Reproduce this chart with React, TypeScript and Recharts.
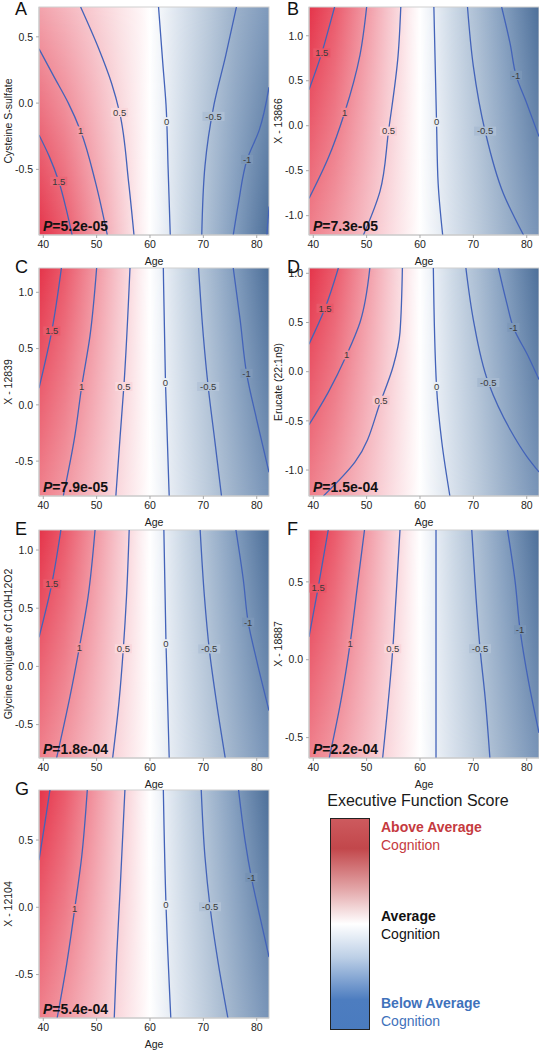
import React from "react";
import { ComposedChart, XAxis, YAxis, Line, Scatter, ReferenceArea } from "recharts";

type Pt = [number, number];
type Lab = [string, number, number];

const AGE_DOMAIN: [number, number] = [39.2, 82.3];
const AGE_TICKS = [40, 50, 60, 70, 80];

// contour lines, each as [age, metabolite] points from top to bottom
const contoursA: Pt[][] = [
  [[39.2, -0.24], [41.1, -0.4], [42.9, -0.59], [44.3, -0.8], [45.4, -0.995]],
  [[39.2, 0.41], [42.0, 0.2], [44.7, 0.0], [47.0, -0.21], [49.8, -0.6], [52.0, -0.995]],
  [[47.0, 0.725], [50.4, 0.41], [52.8, 0.15], [54.3, -0.07], [56.0, -0.6], [57.0, -0.995]],
  [[61.6, 0.725], [62.4, 0.3], [63.0, -0.01], [63.4, -0.5], [63.8, -0.995]],
  [[76.2, 0.725], [74.2, 0.36], [72.0, -0.01], [70.3, -0.475], [69.7, -0.995]],
  [[82.3, 0.12], [80.5, -0.2], [78.2, -0.425], [76.6, -0.75], [75.6, -0.995]],
  [[82.3, -0.78], [81.9, -0.995]],
];
const labelsA: Lab[] = [
  ["1.5", 42.9, -0.59], ["1", 47.0, -0.21], ["0.5", 54.3, -0.07],
  ["0", 63.1, -0.14], ["-0.5", 71.9, -0.1], ["-1", 78.2, -0.425],
];

const contoursB: Pt[][] = [
  [[44.0, 1.32], [42.8, 1.06], [41.6, 0.81], [39.2, 0.4]],
  [[50.0, 1.32], [48.75, 0.785], [45.9, 0.15], [42.8, -0.36], [39.2, -0.81]],
  [[56.4, 1.32], [55.9, 0.785], [54.1, -0.06], [52.5, -0.73], [49.4, -1.215]],
  [[62.6, 1.32], [63.1, 0.04], [63.4, -0.64], [64.25, -1.215]],
  [[68.9, 1.32], [70.0, 0.66], [72.2, -0.06], [75.6, -0.75], [79.4, -1.215]],
  [[75.3, 1.32], [76.9, 0.91], [78.0, 0.56], [80.0, 0.25], [82.3, -0.12]],
];
const labelsB: Lab[] = [
  ["1.5", 41.6, 0.81], ["1", 45.9, 0.15], ["0.5", 54.1, -0.06],
  ["0", 63.1, 0.04], ["-0.5", 72.2, -0.06], ["-1", 78.0, 0.56],
];

const contoursC: Pt[][] = [
  [[43.4, 1.216], [41.6, 0.657], [39.2, 0.148]],
  [[50.0, 1.216], [48.75, 0.61], [47.2, 0.163], [45.9, -0.28], [43.75, -0.81]],
  [[56.25, 1.216], [55.1, 0.163], [54.4, -0.28], [53.6, -0.81]],
  [[62.5, 1.216], [62.9, 0.198], [63.6, -0.81]],
  [[69.1, 1.216], [70.0, 0.61], [70.9, 0.163], [72.2, -0.34], [73.4, -0.81]],
  [[75.6, 1.216], [76.9, 0.754], [78.1, 0.28], [80.0, -0.133], [82.3, -0.6]],
];
const labelsC: Lab[] = [
  ["1.5", 41.6, 0.657], ["1", 47.2, 0.163], ["0.5", 55.1, 0.163],
  ["0", 62.9, 0.198], ["-0.5", 70.9, 0.163], ["-1", 78.1, 0.28],
];

const contoursD: Pt[][] = [
  [[44.7, 1.054], [42.2, 0.645], [39.2, 0.28]],
  [[50.6, 1.054], [48.75, 0.5], [46.25, 0.17], [42.8, -0.21], [39.2, -0.54]],
  [[56.7, 1.054], [56.25, 0.4], [55.0, 0.06], [52.7, -0.29], [47.8, -0.92], [41.9, -1.264]],
  [[62.5, 1.054], [63.1, -0.15], [64.1, -0.72], [65.6, -1.264]],
  [[68.6, 1.054], [70.0, 0.527], [72.8, -0.11], [76.9, -0.59], [80.0, -0.86], [82.3, -1.02]],
  [[74.7, 1.054], [76.25, 0.7], [77.5, 0.45], [80.3, 0.155], [82.3, -0.08]],
];
const labelsD: Lab[] = [
  ["1.5", 42.2, 0.645], ["1", 46.25, 0.17], ["0.5", 52.7, -0.29],
  ["0", 63.1, -0.15], ["-0.5", 72.8, -0.11], ["-1", 77.5, 0.45],
];

const contoursE: Pt[][] = [
  [[43.3, 1.172], [41.6, 0.71], [39.2, 0.25]],
  [[49.7, 1.172], [48.4, 0.6], [46.75, 0.16], [45.0, -0.26], [42.5, -0.787]],
  [[56.1, 1.172], [55.6, 0.6], [55.0, 0.152], [54.2, -0.3], [53.0, -0.787]],
  [[62.6, 1.172], [63.0, 0.195], [63.6, -0.787]],
  [[69.4, 1.172], [70.2, 0.6], [71.1, 0.15], [72.5, -0.32], [74.1, -0.787]],
  [[76.1, 1.172], [77.5, 0.74], [78.4, 0.38], [80.0, 0.05], [82.3, -0.38]],
];
const labelsE: Lab[] = [
  ["1.5", 41.6, 0.71], ["1", 46.75, 0.16], ["0.5", 55.0, 0.152],
  ["0", 63.0, 0.195], ["-0.5", 71.1, 0.15], ["-1", 78.4, 0.38],
];

const contoursF: Pt[][] = [
  [[42.8, 0.833], [40.9, 0.46], [39.2, 0.146]],
  [[49.6, 0.833], [48.4, 0.51], [46.9, 0.103], [45.3, -0.24], [43.0, -0.631]],
  [[56.25, 0.833], [55.5, 0.4], [54.9, 0.071], [53.0, -0.631]],
  [[63.0, 0.833], [63.0, -0.631]],
  [[69.7, 0.833], [70.5, 0.4], [71.25, 0.071], [72.2, -0.24], [73.1, -0.631]],
  [[76.4, 0.833], [77.8, 0.51], [78.75, 0.193], [80.3, -0.133], [82.3, -0.47]],
];
const labelsF: Lab[] = [
  ["1.5", 40.9, 0.46], ["1", 46.9, 0.103], ["0.5", 54.9, 0.071],
  ["-0.5", 71.25, 0.071], ["-1", 78.75, 0.193],
];

const contoursG: Pt[][] = [
  [[41.25, 0.872], [40.2, 0.6], [39.2, 0.35]],
  [[48.25, 0.872], [47.2, 0.376], [45.9, -0.009], [44.4, -0.418], [42.6, -0.823]],
  [[55.3, 0.872], [54.4, 0.128], [53.75, -0.368], [53.3, -0.823]],
  [[62.5, 0.872], [63.0, 0.016], [63.9, -0.823]],
  [[69.6, 0.872], [70.3, 0.376], [71.25, 0.004], [72.8, -0.418], [74.6, -0.823]],
  [[76.6, 0.872], [77.8, 0.5], [79.0, 0.222], [80.6, -0.07], [82.3, -0.37]],
];
const labelsG: Lab[] = [
  ["1", 45.9, -0.009], ["0", 63.0, 0.016], ["-0.5", 71.25, 0.004], ["-1", 79.0, 0.222],
];

// background colour ramp (strong = extreme edge, weak = opposite edge)
const STOP_AGES = [39.2, 44, 49, 54, 58.5, 60, 62, 66, 71, 76, 82.3];
const STRONG = ["#e4344a", "#ea5a6b", "#f08f9b", "#f6c4cb", "#fdf1f3", "#ffffff", "#eef2f8", "#cdd9e6", "#a9bcd2", "#819cbd", "#4d6f99"];
const WEAK = ["#f0808c", "#f29aa4", "#f6b9c1", "#fad9de", "#fef5f6", "#ffffff", "#f2f5f9", "#d9e2ed", "#bccbdc", "#9db2cb", "#7894b8"];
const WEAK_A = ["#f3a3ac", "#f5b6be", "#f8ccd2", "#fbe3e6", "#fef6f7", "#ffffff", "#f2f5f9", "#d9e2ed", "#bccbdc", "#9db2cb", "#7f9abc"];

const LINE = "#4363b9";
const FONT = "'Liberation Sans', Arial, sans-serif";

const hex = (h: string) => [1, 3, 5].map((i) => parseInt(h.slice(i, i + 2), 16));
const lerp = (a: number[], b: number[], t: number) => a.map((x, i) => x + (b[i] - x) * t);

function colorAt(age: number, t: number, weak: string[]) {
  let i = 0;
  while (i < STOP_AGES.length - 2 && age > STOP_AGES[i + 1]) i++;
  const f = Math.max(0, Math.min(1, (age - STOP_AGES[i]) / (STOP_AGES[i + 1] - STOP_AGES[i])));
  const s = lerp(hex(STRONG[i]), hex(STRONG[i + 1]), f);
  const w = lerp(hex(weak[i]), hex(weak[i + 1]), f);
  const c = lerp(w, s, t).map((v) => Math.round(v));
  return `rgb(${c[0]},${c[1]},${c[2]})`;
}

const offsetOf = (a: number) => (a - AGE_DOMAIN[0]) / (AGE_DOMAIN[1] - AGE_DOMAIN[0]);

function Background(props: any) {
  const { x, y, width, height, id, flip, weak } = props;
  return (
    <g>
      <defs>
        <linearGradient id={`${id}-weak`} x1="0" y1="0" x2="1" y2="0">
          {STOP_AGES.map((a, i) => <stop key={i} offset={offsetOf(a)} stopColor={weak[i]} />)}
        </linearGradient>
        <linearGradient id={`${id}-strong`} x1="0" y1="0" x2="1" y2="0">
          {STOP_AGES.map((a, i) => <stop key={i} offset={offsetOf(a)} stopColor={STRONG[i]} />)}
        </linearGradient>
        <linearGradient id={`${id}-fade`} x1="0" y1="0" x2="0" y2="1">
          <stop offset={0} stopColor="#fff" stopOpacity={flip ? 0 : 1} />
          <stop offset={1} stopColor="#fff" stopOpacity={flip ? 1 : 0} />
        </linearGradient>
        <mask id={`${id}-mask`} maskUnits="userSpaceOnUse" x={x} y={y} width={width} height={height} style={{ maskType: "alpha" } as any}>
          <rect x={x} y={y} width={width} height={height} fill={`url(#${id}-fade)`} />
        </mask>
      </defs>
      <rect x={x} y={y} width={width} height={height} fill={`url(#${id}-weak)`} />
      <rect x={x} y={y} width={width} height={height} fill={`url(#${id}-strong)`} mask={`url(#${id}-mask)`} />
      <rect x={x} y={y} width={width} height={height} fill="none" stroke="#cfcfcf" strokeWidth={1} />
    </g>
  );
}

function ContourLabel(props: any) {
  const { cx, cy, payload } = props;
  if (cx == null || cy == null) return null;
  const w = payload.text.length * 5 + 2;
  return (
    <g>
      <rect x={cx - w / 2} y={cy - 4.5} width={w} height={9} fill={payload.bg} />
      <text x={cx} y={cy} dy="0.35em" textAnchor="middle" fontSize={9.5} fill="#3a3a3a">
        {payload.text}
      </text>
    </g>
  );
}

const ROW_TOPS = [7, 268, 530, 790];
const PLOT_H = 228;

const PANELS = [
  { key: "A", title: "Cysteine S-sulfate", p: "5.2e-05", domain: [-0.995, 0.725], ticks: [-0.5, 0, 0.5], contours: contoursA, labels: labelsA, flip: true, weak: WEAK_A, col: 0, row: 0 },
  { key: "B", title: "X - 13866", p: "7.3e-05", domain: [-1.215, 1.32], ticks: [-1, -0.5, 0, 0.5, 1], contours: contoursB, labels: labelsB, flip: false, weak: WEAK, col: 1, row: 0 },
  { key: "C", title: "X - 12839", p: "7.9e-05", domain: [-0.81, 1.216], ticks: [-0.5, 0, 0.5, 1], contours: contoursC, labels: labelsC, flip: false, weak: WEAK, col: 0, row: 1 },
  { key: "D", title: "Erucate (22:1n9)", p: "1.5e-04", domain: [-1.264, 1.054], ticks: [-1, -0.5, 0, 0.5, 1], contours: contoursD, labels: labelsD, flip: false, weak: WEAK, col: 1, row: 1 },
  { key: "E", title: "Glycine conjugate of C10H12O2", p: "1.8e-04", domain: [-0.787, 1.172], ticks: [-0.5, 0, 0.5, 1], contours: contoursE, labels: labelsE, flip: false, weak: WEAK, col: 0, row: 2 },
  { key: "F", title: "X - 18887", p: "2.2e-04", domain: [-0.631, 0.833], ticks: [-0.5, 0, 0.5], contours: contoursF, labels: labelsF, flip: false, weak: WEAK, col: 1, row: 2 },
  { key: "G", title: "X - 12104", p: "5.4e-04", domain: [-0.823, 0.872], ticks: [-0.5, 0, 0.5], contours: contoursG, labels: labelsG, flip: false, weak: WEAK, col: 0, row: 3 },
];

function Panel({ cfg }: { cfg: (typeof PANELS)[number] }) {
  const [ymin, ymax] = cfg.domain;
  const left = cfg.col === 0 ? 0 : 270;
  const width = cfg.col === 0 ? 270 : 269;
  const top = ROW_TOPS[cfg.row] - 7;
  const id = `bg${cfg.key}`;
  const labelData = cfg.labels.map(([text, age, v]) => {
    const t = cfg.flip ? (ymax - v) / (ymax - ymin) : (v - ymin) / (ymax - ymin);
    return { age, v, text, bg: colorAt(age, t, cfg.weak) };
  });
  const axisText = { fontSize: 10.5, fill: "#222" };

  return (
    <div style={{ position: "absolute", left, top, width, height: 267 }}>
      <ComposedChart width={width} height={267} margin={{ top: 7, right: cfg.col === 0 ? 1 : 0, left: 0, bottom: 0 }}>
        <XAxis
          type="number"
          dataKey="age"
          domain={AGE_DOMAIN}
          ticks={AGE_TICKS}
          allowDataOverflow
          height={32}
          tickSize={3}
          tickMargin={3}
          tick={axisText}
          tickLine={{ stroke: "#aaa" }}
          axisLine={{ stroke: "#c8c8c8" }}
          label={{ value: "Age", position: "insideBottom", offset: 2, ...axisText }}
        />
        <YAxis
          type="number"
          dataKey="v"
          domain={cfg.domain}
          ticks={cfg.ticks}
          allowDataOverflow
          width={39}
          tickSize={3}
          tickMargin={3}
          tick={axisText}
          tickLine={{ stroke: "#aaa" }}
          axisLine={{ stroke: "#c8c8c8" }}
          tickFormatter={(v: number) => v.toFixed(1)}
          label={{ value: cfg.title, angle: -90, position: "insideLeft", offset: 8, style: { textAnchor: "middle" }, ...axisText }}
        />
        <ReferenceArea
          x1={AGE_DOMAIN[0]}
          x2={AGE_DOMAIN[1]}
          y1={ymin}
          y2={ymax}
          shape={(p: any) => <Background {...p} id={id} flip={cfg.flip} weak={cfg.weak} />}
        />
        {cfg.contours.map((pts, i) => (
          <Line
            key={i}
            data={pts.map(([age, v]) => ({ age, v }))}
            dataKey="v"
            type="monotoneY"
            stroke={LINE}
            strokeWidth={1.3}
            dot={false}
            activeDot={false}
            isAnimationActive={false}
          />
        ))}
        <Scatter data={labelData} dataKey="v" shape={ContourLabel} isAnimationActive={false} />
      </ComposedChart>
      <div style={{ position: "absolute", left: cfg.col === 0 ? 15 : 17, top: cfg.row === 0 ? 0 : -3, fontSize: 18, lineHeight: 1, color: "#111" }}>
        {cfg.key}
      </div>
      <div style={{ position: "absolute", left: 43, top: 7 + PLOT_H - 16, fontSize: 14, lineHeight: 1, fontWeight: "bold", color: "#111", whiteSpace: "nowrap" }}>
        <i>P</i>={cfg.p}
      </div>
    </div>
  );
}

function ScoreLegend() {
  const line = { position: "absolute" as const, left: 381, fontSize: 14, lineHeight: "18px", whiteSpace: "nowrap" as const };
  return (
    <>
      <div style={{ position: "absolute", left: 308, top: 793, width: 220, textAlign: "center", fontSize: 16, lineHeight: 1, color: "#1a1a1a", whiteSpace: "nowrap" }}>
        Executive Function Score
      </div>
      <div
        style={{
          position: "absolute", left: 330, top: 818, width: 40, height: 212, boxSizing: "border-box",
          border: "1.5px solid #222",
          background: "linear-gradient(to bottom, #cd5a5e 0%, #c2474b 14%, #e4a9ab 34%, #ffffff 50%, #bccfe6 66%, #4d7dc0 86%, #4a7bbf 100%)",
        }}
      />
      <div style={{ ...line, top: 818, fontWeight: "bold", color: "#c53a40" }}>Above Average</div>
      <div style={{ ...line, top: 836, color: "#c53a40" }}>Cognition</div>
      <div style={{ ...line, top: 907, fontWeight: "bold", color: "#111" }}>Average</div>
      <div style={{ ...line, top: 925, color: "#111" }}>Cognition</div>
      <div style={{ ...line, top: 994, fontWeight: "bold", color: "#3f72bb" }}>Below Average</div>
      <div style={{ ...line, top: 1012, color: "#3f72bb" }}>Cognition</div>
    </>
  );
}

export default function App() {
  return (
    <div style={{ position: "absolute", left: 0, top: 0, width: 539, height: 1050, background: "#fff", overflow: "hidden", fontFamily: FONT }}>
      {PANELS.map((cfg) => (
        <Panel key={cfg.key} cfg={cfg} />
      ))}
      <ScoreLegend />
    </div>
  );
}
